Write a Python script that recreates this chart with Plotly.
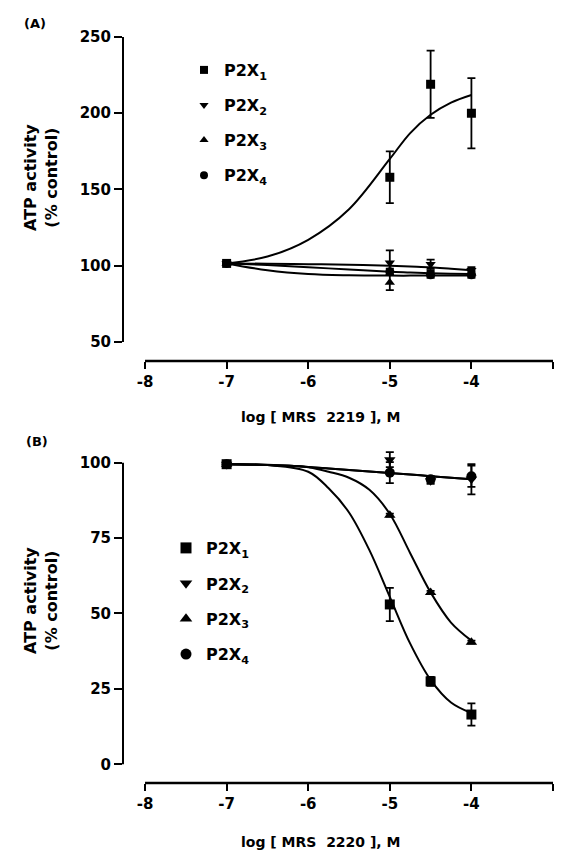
import plotly.graph_objects as go

OFF_X, OFF_Y = 8, 8          # page offsets of the plot div (body margin)
W, H = 567 - 2 * OFF_X, 860 - 2 * OFF_Y
FONT = "DejaVu Sans"

# ---------------- data ----------------
log_conc = [-7, -5, -4.5, -4]
x_ticks = [-8, -7, -6, -5, -4, -3]
x_ticktext = ["-8", "-7", "-6", "-5", "-4", "-3"]
series_names = ["P2X<sub>1</sub>", "P2X<sub>2</sub>", "P2X<sub>3</sub>", "P2X<sub>4</sub>"]
symbols = ["square", "triangle-down", "triangle-up", "circle"]

# Panel A  (MRS 2219)
a_p2x1 = [101.5, 158, 219, 200]
a_p2x1_err = [1.5, 17, 22, 23]
a_p2x2 = [101.5, 102, 101, 97]
a_p2x2_err = [1, 8, 3, 2]
a_p2x3 = [101.5, 89, 95, 95]
a_p2x3_err = [1, 5, 2, 2]
a_p2x4 = [101.5, 96, 94, 94]
a_p2x4_err = [1, 2, 2, 2]
a_yticks = [50, 100, 150, 200, 250]

# fitted curves of panel A
a_curve_x = [-7, -6.5, -6, -5.5, -5, -4.75, -4.5, -4.25, -4]
a_fit1 = [101.5, 106, 117, 137, 170, 187, 199, 207, 212]
a_fit2 = [101.5, 101.3, 101, 100.7, 100, 99.5, 99, 98, 97]
a_fit3 = [101.5, 100.5, 99, 97.5, 96, 95.5, 95, 94.7, 94.5]
a_fit4 = [101.5, 97, 94.5, 93.7, 93.5, 93.5, 93.5, 93.5, 93.5]

# Panel B  (MRS 2220)
b_p2x1 = [99.5, 53, 27.5, 16.5]
b_p2x1_err = [1, 5.5, 1.5, 3.7]
b_p2x2 = [99.5, 101, 94, 94.5]
b_p2x2_err = [1, 2.5, 1, 5]
b_p2x3 = [99.5, 82.6, 57, 40.5]
b_p2x3_err = [0.5, 0.5, 0.5, 0.5]
b_p2x4 = [99.5, 96.7, 94.5, 95.5]
b_p2x4_err = [1, 3.5, 1, 3.5]
b_yticks = [0, 25, 50, 75, 100]

# fitted curves of panel B
b_curve_x = [-7, -6.5, -6, -5.75, -5.5, -5.25, -5, -4.75, -4.5, -4.25, -4]
b_fit1 = [99.5, 99.2, 97, 91.5, 83.5, 71, 55.5, 40, 28, 20.5, 17]
b_fit2 = [99.5, 99.2, 98.6, 98.1, 97.6, 97.1, 96.6, 96.1, 95.5, 95, 94.5]
b_fit3 = [99.5, 99.3, 98.5, 97, 95, 91, 83, 70, 57, 47, 41]
b_fit4 = [99.5, 99.2, 98.6, 98.1, 97.6, 97.1, 96.6, 96.1, 95.5, 95, 94.5]

# ---------------- figure ----------------
fig = go.Figure()

def add_panel(xa, ya, legend, curve_x, fits, vals, errs, msize, lsize):
    for fit in fits:
        fig.add_trace(go.Scatter(x=curve_x, y=fit, mode="lines",
                                 line=dict(color="black", width=2, shape="spline", smoothing=1.0),
                                 xaxis=xa, yaxis=ya, showlegend=False, hoverinfo="skip"))
    for v, e, sym in zip(vals, errs, symbols):
        fig.add_trace(go.Scatter(x=log_conc, y=v, mode="markers",
                                 marker=dict(symbol=sym, size=msize, color="black"),
                                 error_y=dict(type="data", array=e, color="black",
                                              thickness=1.8, width=4),
                                 xaxis=xa, yaxis=ya, showlegend=False))
    for i, (name, sym) in enumerate(zip(series_names, symbols)):
        fig.add_trace(go.Scatter(x=[None], y=[None], mode="markers", name=name,
                                 marker=dict(symbol=sym, size=lsize, color="black"),
                                 xaxis=xa, yaxis=ya, legend=legend,
                                 legendgroup=legend + str(i), showlegend=True))

add_panel("x", "y", "legend", a_curve_x, [a_fit1, a_fit2, a_fit3, a_fit4],
          [a_p2x1, a_p2x2, a_p2x3, a_p2x4],
          [a_p2x1_err, a_p2x2_err, a_p2x3_err, a_p2x4_err], 9, 8)
add_panel("x2", "y2", "legend2", b_curve_x, [b_fit1, b_fit2, b_fit3, b_fit4],
          [b_p2x1, b_p2x2, b_p2x3, b_p2x4],
          [b_p2x1_err, b_p2x2_err, b_p2x3_err, b_p2x4_err], 10, 11)


def px(p):
    return (p - OFF_X) / W


def py(p):
    return 1 - (p - OFF_Y) / H


xdom = [px(123), px(553)]
xrange = [-8.27, -3]
tickfont = dict(family=FONT, size=15, color="black", weight="bold")

def xaxis_cfg(anchor):
    return dict(domain=xdom, range=xrange, anchor=anchor, tickvals=x_ticks,
                ticktext=x_ticktext, ticks="outside", ticklen=7, tickwidth=2,
                tickcolor="black", showline=False, zeroline=False, showgrid=False,
                tickfont=tickfont, automargin=False)

def yaxis_cfg(anchor, dom, rng, tv):
    return dict(domain=dom, range=rng, anchor=anchor, tickvals=tv,
                ticks="outside", ticklen=8, tickwidth=2, tickcolor="black",
                showline=False, zeroline=False, showgrid=False, tickfont=tickfont,
                automargin=False)

legfont = dict(family=FONT, size=16, color="black", weight="bold")
fig.update_layout(
    width=W, height=H,
    margin=dict(l=0, r=0, t=0, b=0, pad=0, autoexpand=False),
    paper_bgcolor="white", plot_bgcolor="white",
    font=dict(family=FONT, color="black"),
    xaxis=xaxis_cfg("y"),
    yaxis=yaxis_cfg("x", [py(361), py(37)], [37.5, 250], a_yticks),
    xaxis2=xaxis_cfg("y2"),
    yaxis2=yaxis_cfg("x2", [py(783), py(447)], [-6.2, 105.2], b_yticks),
    legend=dict(x=px(184), y=py(53), xanchor="left", yanchor="top",
                bgcolor="rgba(0,0,0,0)", tracegroupgap=11.3, font=legfont),
    legend2=dict(x=px(166), y=py(531), xanchor="left", yanchor="top",
                 bgcolor="rgba(0,0,0,0)", tracegroupgap=11.6, font=legfont),
    showlegend=True,
)

# axis lines (detached, Prism style)
shapes = []
for xa, ya, y0, y1 in [("x", "y", 50, 250), ("x2", "y2", 0, 100)]:
    shapes.append(dict(type="line", xref=xa + " domain", yref=ya, x0=0, x1=0,
                       y0=y0, y1=y1, line=dict(color="black", width=2)))
    shapes.append(dict(type="line", xref=xa, yref=ya + " domain", x0=-8, x1=-3,
                       y0=0, y1=0, line=dict(color="black", width=2.5)))
fig.update_layout(shapes=shapes)

ann = []
ann.append(dict(text="<b>(A)</b>", x=px(22), y=py(23), xref="paper", yref="paper",
                xanchor="left", yanchor="middle", showarrow=False,
                font=dict(family=FONT, size=13)))
ann.append(dict(text="<b>(B)</b>", x=px(24), y=py(441), xref="paper", yref="paper",
                xanchor="left", yanchor="middle", showarrow=False,
                font=dict(family=FONT, size=13)))
for cy in [178, 601]:
    ann.append(dict(text="<b>ATP activity<br>(% control)</b>", x=px(41), y=py(cy),
                    xref="paper", yref="paper", xanchor="center", yanchor="middle",
                    textangle=-90, showarrow=False,
                    font=dict(family=FONT, size=16)))
for cy, txt in [(417, "log [ MRS  2219 ], M"), (842, "log [ MRS  2220 ], M")]:
    ann.append(dict(text="<b>" + txt.replace("  ", "&nbsp; ") + "</b>", x=px(321), y=py(cy),
                    xref="paper", yref="paper", xanchor="center", yanchor="middle",
                    showarrow=False, font=dict(family=FONT, size=14)))
fig.update_layout(annotations=ann)

fig.write_html("out.html")
